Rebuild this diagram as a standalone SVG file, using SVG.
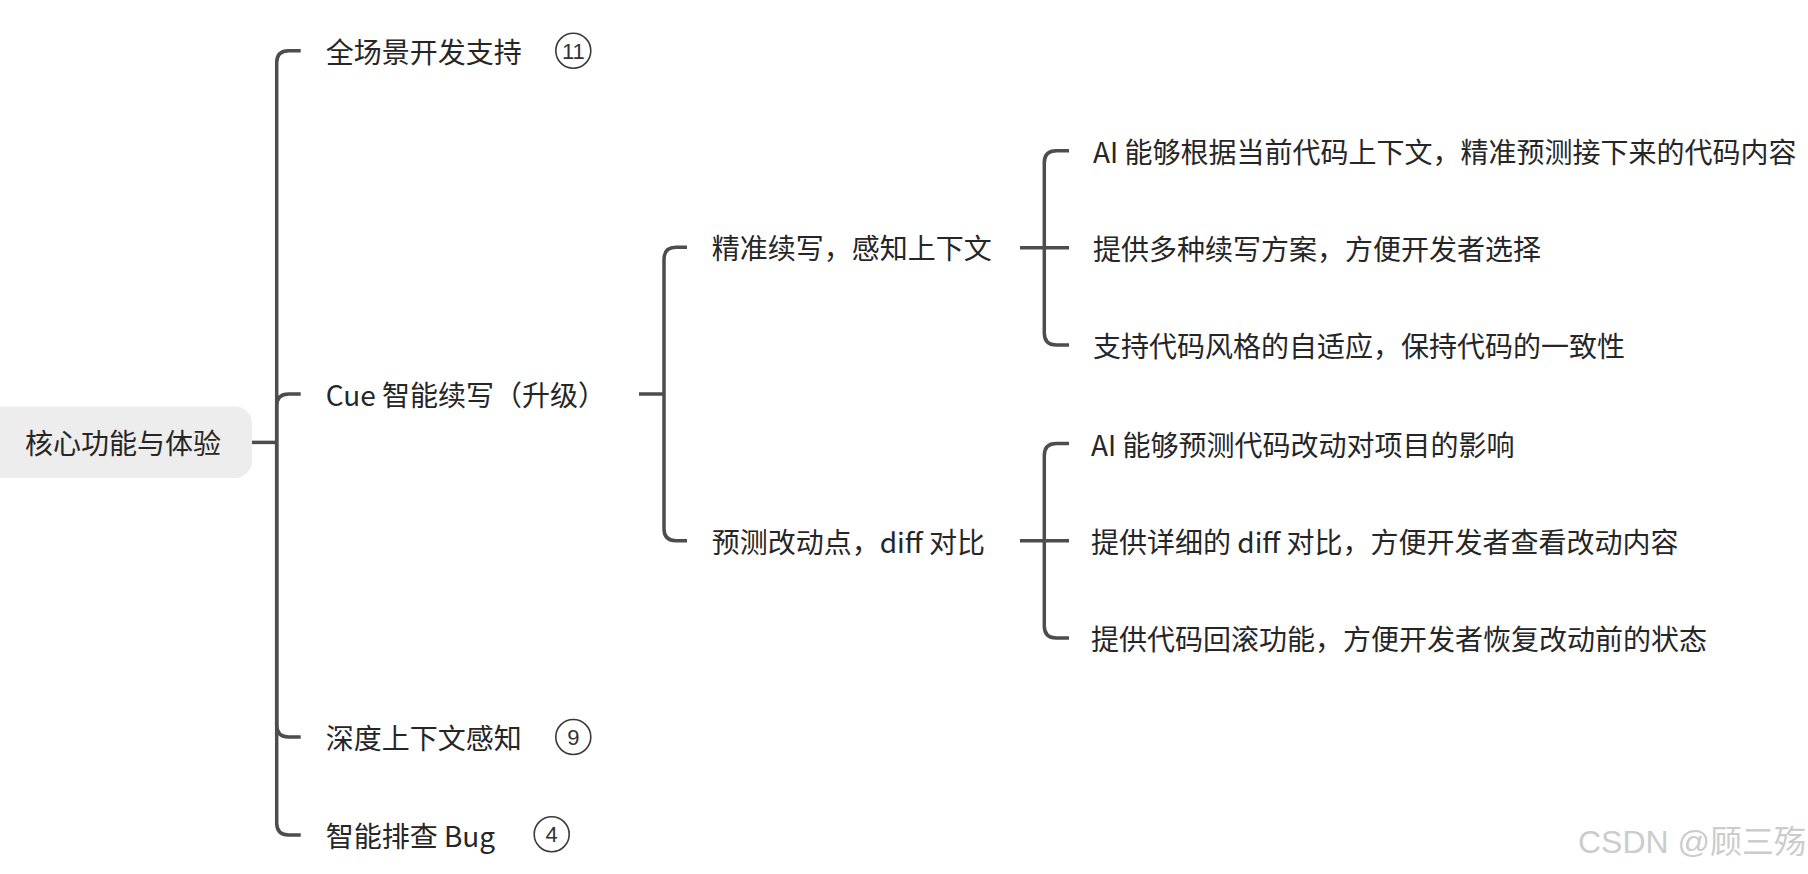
<svg xmlns="http://www.w3.org/2000/svg" width="1808" height="874" viewBox="0 0 1808 874">
<style>
.t{font-family:"Noto Sans CJK SC","Microsoft YaHei",sans-serif;font-size:28px;fill:#262626;dominant-baseline:central}
.c{fill:none;stroke:#4d4d4d;stroke-width:3.5;stroke-linecap:butt}
.b{fill:#fff;stroke:#3a3a3a;stroke-width:1.6}
.bt{font-family:"Liberation Sans",Arial,sans-serif;font-size:22px;fill:#333;text-anchor:middle;dominant-baseline:central}
.wm{font-family:"Liberation Sans","Noto Sans CJK SC",sans-serif;font-size:32px;fill:#cccccc;text-anchor:end}
</style>
<rect width="1808" height="874" fill="#ffffff"/>
<g id="connectors">
  <path class="c" d="M252 442.4 H276.7"/>
  <path class="c" d="M276.7 442.4 V62.7 Q276.7 50.7 288.7 50.7 H300.7"/>
  <path class="c" d="M276.7 442.4 V406 Q276.7 394 288.7 394 H300.7"/>
  <path class="c" d="M276.7 442.4 V725 Q276.7 737 288.7 737 H300.7"/>
  <path class="c" d="M276.7 442.4 V823 Q276.7 835 288.7 835 H300.7"/>
  <path class="c" d="M639 394 H664"/>
  <path class="c" d="M664 394 V259.3 Q664 247.3 676 247.3 H687"/>
  <path class="c" d="M664 394 V528.7 Q664 540.7 676 540.7 H687"/>
  <path class="c" d="M1020 247.7 H1069"/>
  <path class="c" d="M1044.3 247.7 V162.7 Q1044.3 150.7 1056.3 150.7 H1069"/>
  <path class="c" d="M1044.3 247.7 V333 Q1044.3 345 1056.3 345 H1069"/>
  <path class="c" d="M1020 540.7 H1069"/>
  <path class="c" d="M1044.3 540.7 V455.5 Q1044.3 443.5 1056.3 443.5 H1069"/>
  <path class="c" d="M1044.3 540.7 V626 Q1044.3 638 1056.3 638 H1069"/>
</g>
<g id="root">
  <rect x="-20" y="406.5" width="272" height="71.5" rx="17" fill="#ededed"/>
  <text class="t" x="25" y="442.4">核心功能与体验</text>
</g>
<g id="n1">
  <text class="t" x="325.7" y="50.7">全场景开发支持</text>
  <circle class="b" cx="573.3" cy="50.7" r="17.5"/>
  <text class="bt" x="573.3" y="51">11</text>
</g>
<g id="n2">
  <text class="t" x="325.7" y="394">Cue 智能续写（升级）</text>
</g>
<g id="n3">
  <text class="t" x="325.7" y="737">深度上下文感知</text>
  <circle class="b" cx="573.3" cy="737" r="17.5"/>
  <text class="bt" x="573.3" y="737.5">9</text>
</g>
<g id="n4">
  <text class="t" x="325.7" y="835">智能排查 Bug</text>
  <circle class="b" cx="551.7" cy="834.3" r="17.5"/>
  <text class="bt" x="551.7" y="834.8">4</text>
</g>
<g id="n2a">
  <text class="t" x="711.7" y="247.3">精准续写，感知上下文</text>
</g>
<g id="n2b">
  <text class="t" x="711.7" y="540.7">预测改动点，diff 对比</text>
</g>
<g id="n2a1"><text class="t" x="1093" y="150.7">AI 能够根据当前代码上下文，精准预测接下来的代码内容</text></g>
<g id="n2a2"><text class="t" x="1093" y="247.7">提供多种续写方案，方便开发者选择</text></g>
<g id="n2a3"><text class="t" x="1093" y="345">支持代码风格的自适应，保持代码的一致性</text></g>
<g id="n2b1"><text class="t" x="1091" y="443.5">AI 能够预测代码改动对项目的影响</text></g>
<g id="n2b2"><text class="t" x="1091" y="540.7">提供详细的 diff 对比，方便开发者查看改动内容</text></g>
<g id="n2b3"><text class="t" x="1091" y="638">提供代码回滚功能，方便开发者恢复改动前的状态</text></g>
<text class="wm" x="1806" y="853">CSDN @顾三殇</text>
</svg>
